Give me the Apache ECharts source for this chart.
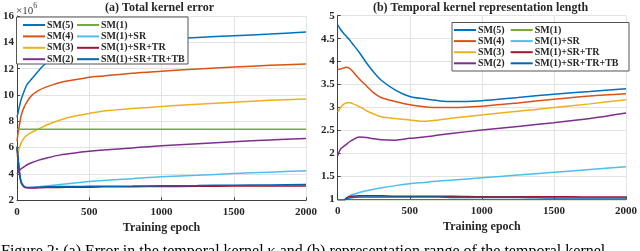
<!DOCTYPE html>
<html>
<head>
<meta charset="utf-8">
<script src="https://cdn.jsdelivr.net/npm/echarts@6/dist/echarts.min.js"></script>
<style>
html,body{margin:0;padding:0;background:#fff;}
#c{width:640px;height:251px;}
</style>
</head>
<body>
<div id="c"></div>
<script>
// ---------- DATA ----------
const seriesNames = ['SM(5)','SM(4)','SM(3)','SM(2)','SM(1)','SM(1)+SR','SM(1)+SR+TR','SM(1)+SR+TR+TB'];
const seriesColors = ['#0072BD','#D95319','#EDB120','#7E2F8E','#77AC30','#4DBEEE','#A2142F','#0064B0'];

// (a) Total kernel error (x1e6)
const epochsA = [0,10,20,30,50,70,100,150,200,300,400,500,600,800,1000,1250,1500,1750,2000];
const errSM5   = [8.3,8.8,9.3,9.7,10.3,10.8,11.2,11.85,12.4,12.95,13.3,13.55,13.75,14.0,14.2,14.37,14.5,14.63,14.78];
const errSM4   = [6.5,7.3,7.9,8.5,9.1,9.5,9.95,10.35,10.6,10.95,11.15,11.35,11.45,11.65,11.8,11.98,12.12,12.25,12.35];
const errSM3   = [5.3,5.75,6.1,6.4,6.75,6.95,7.15,7.42,7.7,8.1,8.4,8.6,8.78,8.98,9.12,9.3,9.45,9.6,9.7];
const errSM2   = [4.0,4.15,4.3,4.4,4.55,4.7,4.85,5.05,5.2,5.45,5.6,5.72,5.82,5.98,6.15,6.3,6.45,6.58,6.7];
const errSM1   = [7.4,7.4,7.4,7.4,7.4,7.4,7.4,7.4,7.4,7.4,7.4,7.4,7.4,7.4,7.4,7.4,7.4,7.4,7.4];
const errSR    = [6.0,4.9,3.9,3.4,3.05,2.98,2.98,3.02,3.08,3.2,3.32,3.42,3.5,3.64,3.78,3.9,4.03,4.14,4.25];
const errTR    = [6.0,4.8,3.8,3.3,3.0,2.95,2.93,2.95,2.97,2.98,3.0,3.0,3.02,3.03,3.05,3.06,3.08,3.08,3.08];
const errTB    = [6.1,4.9,3.9,3.35,3.05,2.97,2.97,3.0,3.02,3.04,3.05,3.06,3.07,3.08,3.1,3.12,3.15,3.17,3.2];

// (b) Temporal kernel representation length
const epochsB = [0,20,40,60,80,100,150,200,250,300,400,500,600,700,800,1000,1250,1500,1750,2000];
const lenSM5 = [4.8,4.7,4.62,4.55,4.48,4.4,4.2,3.97,3.77,3.6,3.38,3.24,3.19,3.15,3.13,3.15,3.22,3.29,3.35,3.41];
const lenSM4 = [3.83,3.84,3.86,3.88,3.86,3.8,3.62,3.47,3.32,3.22,3.13,3.06,3.02,3.0,3.0,3.03,3.1,3.18,3.25,3.3];
const lenSM3 = [2.9,3.0,3.07,3.1,3.11,3.09,3.02,2.93,2.86,2.8,2.76,2.73,2.7,2.73,2.77,2.84,2.92,3.0,3.08,3.17];
const lenSM2 = [1.95,2.1,2.15,2.2,2.25,2.29,2.36,2.35,2.32,2.3,2.29,2.33,2.36,2.4,2.44,2.51,2.59,2.67,2.76,2.88];
const lenSM1 = [0.98,0.98,0.98,0.98,0.98,0.98,0.98,0.98,0.98,0.98,0.98,0.98,0.98,0.98,0.98,0.98,0.98,0.98,0.98,0.98];
const lenSR  = [0.97,0.97,0.97,1.03,1.07,1.1,1.15,1.19,1.22,1.25,1.3,1.34,1.37,1.4,1.42,1.47,1.53,1.59,1.65,1.71];
const lenTR  = [0.97,0.97,0.97,1.03,1.06,1.07,1.08,1.08,1.08,1.08,1.07,1.07,1.07,1.07,1.07,1.06,1.06,1.06,1.05,1.05];
const lenTB  = [0.97,0.97,0.97,1.01,1.03,1.04,1.05,1.05,1.05,1.05,1.05,1.05,1.05,1.05,1.04,1.04,1.04,1.03,1.03,1.03];

const xTicks = [0,500,1000,1500,2000];
const yTicksA = [2,4,6,8,10,12,14,16];
const yTicksB = [1,1.5,2,2.5,3,3.5,4,4.5,5];

const titleA = '(a) Total kernel error';
const titleB = '(b) Temporal kernel representation length';
const xLabel = 'Training epoch';
const caption = 'Figure 2: (a) Error in the temporal kernel \u03ba and (b) representation range of the temporal kernel';

// ---------- CHART ----------
const FONT = '"Liberation Serif", "Times New Roman", serif';
const TXT = '#262626';
const chart = echarts.init(document.getElementById('c'), null, {renderer:'canvas'});

const dataA = [errSM5,errSM4,errSM3,errSM2,errSM1,errSR,errTR,errTB];
const dataB = [lenSM5,lenSM4,lenSM3,lenSM2,lenSM1,lenSR,lenTR,lenTB];

function pairs(xs, ys){ return xs.map((x,i)=>[x, ys[i]]); }

function xAxis(idx){
  return {
    type:'value', gridIndex:idx, min:xTicks[0], max:xTicks[xTicks.length-1], interval:500,
    name:xLabel, nameLocation:'middle', nameGap:20,
    nameTextStyle:{fontFamily:FONT, fontWeight:'bold', fontSize:12, color:TXT},
    axisLine:{show:true, lineStyle:{color:'#404040', width:1}},
    axisTick:{show:true, inside:true, length:3, lineStyle:{color:'#404040'}},
    axisLabel:{fontFamily:FONT, fontWeight:'bold', fontSize:11, color:TXT, margin:6, formatter:v=>String(v)},
    splitLine:{show:true, lineStyle:{color:'#e3e3e3', width:1}}
  };
}
function yAxis(idx, min, max, interval){
  return {
    type:'value', gridIndex:idx, min:min, max:max, interval:interval,
    axisLine:{show:true, lineStyle:{color:'#404040', width:1}},
    axisTick:{show:true, inside:true, length:3, lineStyle:{color:'#404040'}},
    axisLabel:{fontFamily:FONT, fontWeight:'bold', fontSize:11, color:TXT, margin:3, formatter:v=>String(v)},
    splitLine:{show:true, lineStyle:{color:'#e3e3e3', width:1}}
  };
}

const series = [];
seriesNames.forEach((n,i)=>{
  series.push({name:n, type:'line', xAxisIndex:0, yAxisIndex:0, data:pairs(epochsA,dataA[i]),
    showSymbol:false, smooth:0.3, lineStyle:{width:1.5, color:seriesColors[i]}, itemStyle:{color:seriesColors[i]}, z:2+i});
  series.push({name:n, type:'line', xAxisIndex:1, yAxisIndex:1, data:pairs(epochsB,dataB[i]),
    showSymbol:false, smooth:0.3, lineStyle:{width:1.5, color:seriesColors[i]}, itemStyle:{color:seriesColors[i]}, z:2+i});
});

function legend(names, left, top, gap){
  return {
    orient:'vertical', left:left, top:top, itemGap:gap, itemWidth:22, itemHeight:2,
    icon:'rect', padding:0, z:200, selectedMode:false,
    data:names.map(n=>({name:n, icon:'rect'})),
    textStyle:{fontFamily:FONT, fontWeight:'bold', fontSize:10, color:TXT, lineHeight:11, padding:[0,0,0,-3]}
  };
}

chart.setOption({
  animation:false,
  backgroundColor:'#fff',
  grid:[
    {left:14.7, top:16, width:291.3, height:184.3},
    {left:337.7, top:15.7, width:291.6, height:183.7}
  ],
  xAxis:[xAxis(0), xAxis(1)],
  yAxis:[yAxis(0, yTicksA[0], yTicksA[yTicksA.length-1], 2), yAxis(1, yTicksB[0], yTicksB[yTicksB.length-1], 0.5)],
  series:series,
  legend:[
    legend(seriesNames.slice(0,4), 23, 19.5, 0.4),
    legend(seriesNames.slice(4), 77, 19.5, 0.4),
    legend(seriesNames.slice(0,4), 454, 24.5, 0.1),
    legend(seriesNames.slice(4), 510.7, 24.5, 0.1)
  ],
  graphic:[
    {type:'rect', z:150, shape:{x:16.5, y:17, width:171.5, height:47}, style:{fill:'#fff', stroke:'#555', lineWidth:1}},
    {type:'rect', z:150, shape:{x:452, y:22.5, width:177, height:48.5}, style:{fill:'#fff', stroke:'#555', lineWidth:1}},
    {type:'text', z:150, style:{text:titleA, x:159.5, y:8, align:'center', verticalAlign:'middle', fontFamily:FONT, fontWeight:'bold', fontSize:12, fill:TXT}},
    {type:'text', z:150, style:{text:titleB, x:480.5, y:8, align:'center', verticalAlign:'middle', fontFamily:FONT, fontWeight:'bold', fontSize:12, fill:TXT}},
    {type:'text', z:150, style:{text:'{a|\u00d710}{b|6}', x:16, y:2, align:'left', verticalAlign:'top', fontFamily:FONT, fill:'#404040',
      rich:{a:{fontFamily:FONT, fontSize:11, fill:'#404040', padding:[4,0,0,0]}, b:{fontFamily:FONT, fontSize:8, fill:'#404040', verticalAlign:'top', padding:[0,0,6,0]}}}},
    {type:'text', z:150, style:{text:caption, x:1, y:244, align:'left', verticalAlign:'top', fontFamily:FONT, fontSize:16, fill:'#000'}}
  ]
});
</script>
</body>
</html>
